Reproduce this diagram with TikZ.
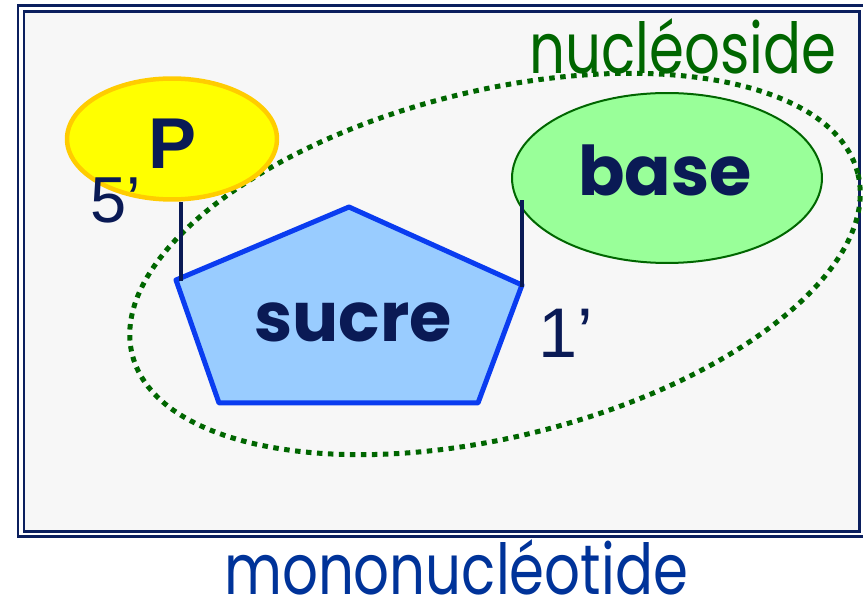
\documentclass[tikz,border=0pt]{standalone}
\usepackage{fontspec}
\setmainfont{Poppins}
\newfontfamily\arialfont{Liberation Sans}
\usepackage{xcolor}
\usepackage{graphicx}
\usetikzlibrary{shapes.geometric}
\definecolor{navy}{HTML}{0A1A55}
\definecolor{cadrebleu}{HTML}{0B1F5E}
\definecolor{fond}{HTML}{F7F7F7}
\definecolor{vertfonce}{HTML}{006600}
\definecolor{bleumono}{HTML}{003399}
\definecolor{jaune}{HTML}{FFFF00}
\definecolor{orjaune}{HTML}{FFCC00}
\definecolor{vertclair}{HTML}{99FF99}
\definecolor{bleuclair}{HTML}{99CCFF}
\definecolor{bleuvif}{HTML}{0A3CF0}
\newcommand{\haut}[1]{\scalebox{1}[1.25]{#1}}

\begin{document}
\begin{tikzpicture}[x=0.02cm,y=-0.02cm]
\tikzstyle{cadre}=[draw=cadrebleu,line width=0.06cm]
\tikzstyle{phos}=[ellipse,draw=orjaune,fill=jaune,line width=0.09cm,minimum width=4.2cm,minimum height=2.42cm,inner sep=0pt]
\tikzstyle{baseell}=[ellipse,draw=vertfonce,fill=vertclair,line width=0.04cm,minimum width=6.2cm,minimum height=3.4cm,inner sep=0pt]
\tikzstyle{sucrepoly}=[draw=bleuvif,fill=bleuclair,line width=0.1cm,line join=round]
\tikzstyle{liaison}=[draw=navy,line width=0.09cm]
\tikzstyle{gros}=[font=\bfseries\fontsize{39}{46}\selectfont,text=navy,inner sep=0pt]
\tikzstyle{prime}=[font=\arialfont\fontsize{40}{48}\selectfont,text=navy,inner sep=0pt]
\tikzstyle{titre}=[font=\fontsize{32}{38}\selectfont,inner sep=0pt]
\useasboundingbox (0,0) rectangle (863,604);
\draw[cadre] (18,6) rectangle (866,537);
\draw[cadre,fill=fond] (24,12) rectangle (859,532);
\draw[vertfonce,line width=0.1cm,dash pattern=on 0.11cm off 0.11cm,rotate around={14:(495,264)}] (495,264) ellipse [x radius=7.48cm,y radius=3.46cm];
\coordinate (haut) at (349,207);
\coordinate (gauche) at (176,280);
\coordinate (droite) at (522,285);
\coordinate (basd) at (478,403);
\coordinate (basg) at (219,403);
\draw[sucrepoly] (haut) -- (droite) -- (basd) -- (basg) -- (gauche) -- cycle;
\node (sucre) [gros] at (353,322) {sucre};
\node (P) [phos] at (172,139) {};
\node (Ptxt) [font=\arialfont\bfseries\fontsize{41}{48}\selectfont, text=navy, inner sep=0pt] at (173,144) {P};
\node (base) [baseell] at (667,178) {};
\node (basetxt) [gros] at (665,170) {base};
\coordinate (c5) at (181,281);
\coordinate (c1) at (522,287);
\coordinate (c1haut) at (522,200);
\draw[liaison] (c5) -- (c5 |- P.south);
\draw[liaison] (c1) -- (c1haut);
\node (cinq) [prime, font=\arialfont\fontsize{37}{44}\selectfont] at (116,200) {5’};
\node (un) [prime] at (566,333) {1’};
\node (nucleoside) [titre, text=vertfonce] at (683,46) {\haut{nucléoside}};
\node (mononucleotide) [titre, text=bleumono] at (456,567) {\haut{mononucléotide}};
\end{tikzpicture}
\end{document}
